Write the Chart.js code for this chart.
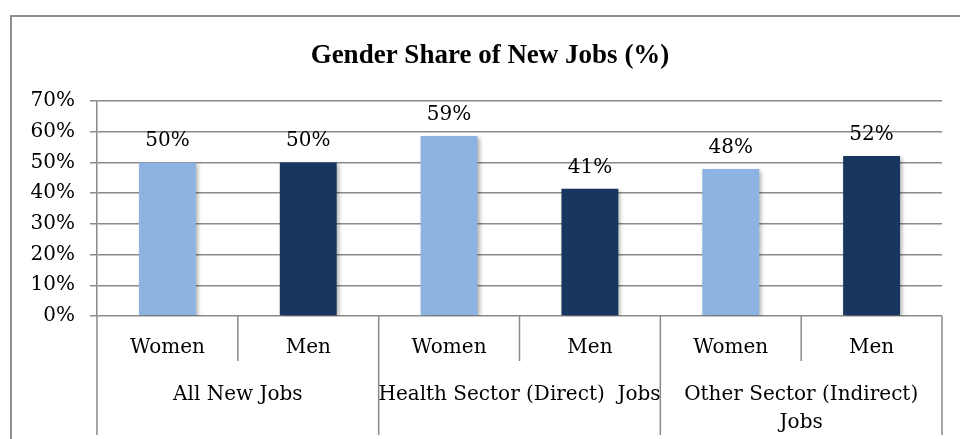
<!DOCTYPE html>
<html>
<head>
<meta charset="utf-8">
<script src="https://cdn.jsdelivr.net/npm/chart.js@4/dist/chart.umd.min.js"></script>
<style>
  html, body { margin: 0; padding: 0; background: #fff; }
  #wrap { position: relative; width: 960px; height: 439px; }
</style>
</head>
<body>
<div id="wrap"><canvas id="chart" width="960" height="439"></canvas></div>
<script>
// データ
var chartTitle = 'Gender Share of New Jobs (%)';
var subLabels = ['Women', 'Men', 'Women', 'Men', 'Women', 'Men'];
var groupLabels = [['All New Jobs'], ['Health Sector (Direct)  Jobs'], ['Other Sector (Indirect)', 'Jobs']];
var shareValues = [50, 50, 58.6, 41.4, 47.9, 52.1];
var barColors = ['#8DB3E2', '#17375E', '#8DB3E2', '#17375E', '#8DB3E2', '#17375E'];
var yTicks = [0, 10, 20, 30, 40, 50, 60, 70];

var gridColor = '#8a8a8a';
var axisFont = 'DejaVu Serif';

// 外枠・タイトル・区切り線・グループラベル
var multiLevelAxis = {
    id: 'multiLevelAxis',
    beforeDraw: function(chart) {
        var c = chart.ctx;
        c.save();
        c.strokeStyle = '#8f8f8f';
        c.lineWidth = 2;
        c.beginPath();
        c.moveTo(11, chart.height + 5);
        c.lineTo(11, 16);
        c.lineTo(chart.width + 5, 16);
        c.stroke();
        // タイトル
        c.fillStyle = '#000';
        c.font = 'bold 27px "Liberation Serif"';
        c.textAlign = 'center';
        c.textBaseline = 'middle';
        c.fillText(chartTitle, 490, 56);
        c.restore();
    },
    afterDraw: function(chart) {
        var c = chart.ctx;
        var x = chart.scales.x;
        var area = chart.chartArea;
        var half = (x.getPixelForValue(1) - x.getPixelForValue(0)) / 2;
        c.save();
        c.strokeStyle = gridColor;
        c.lineWidth = 1.5;
        for (var i = 0; i <= subLabels.length; i++) {
            var px = i < subLabels.length ? x.getPixelForValue(i) - half : x.getPixelForValue(i - 1) + half;
            var bottom = (i % 2 === 0) ? area.bottom + 119 : area.bottom + 45;
            c.beginPath();
            c.moveTo(px, area.bottom);
            c.lineTo(px, bottom);
            c.stroke();
        }
        c.fillStyle = '#000';
        c.font = '20px "' + axisFont + '"';
        c.textAlign = 'center';
        c.textBaseline = 'alphabetic';
        groupLabels.forEach(function(lines, g) {
            var cx = (x.getPixelForValue(g * 2) + x.getPixelForValue(g * 2 + 1)) / 2;
            lines.forEach(function(t, k) {
                c.fillText(t, cx, area.bottom + 84 + k * 28);
            });
        });
        c.restore();
    }
};

// 棒の上の値ラベル
var valueLabels = {
    id: 'valueLabels',
    afterDatasetsDraw: function(chart) {
        var c = chart.ctx;
        var meta = chart.getDatasetMeta(0);
        c.save();
        c.fillStyle = '#000';
        c.font = '20px "' + axisFont + '"';
        c.textAlign = 'center';
        c.textBaseline = 'alphabetic';
        meta.data.forEach(function(bar, i) {
            c.fillText(Math.round(shareValues[i]) + '%', bar.x, bar.y - 16);
        });
        c.restore();
    }
};

// 棒の影
var barShadow = {
    id: 'barShadow',
    beforeDatasetsDraw: function(chart) {
        var c = chart.ctx;
        c.save();
        c.shadowColor = 'rgba(0,0,0,0.3)';
        c.shadowBlur = 4;
        c.shadowOffsetX = 2;
        c.shadowOffsetY = 2;
    },
    afterDatasetsDraw: function(chart) {
        chart.ctx.restore();
    }
};

var chart = new Chart(document.getElementById('chart'), {
    type: 'bar',
    data: {
        labels: subLabels,
        datasets: [{
            data: shareValues,
            backgroundColor: barColors,
            borderWidth: 0,
            categoryPercentage: 1,
            barPercentage: 0.404
        }]
    },
    options: {
        responsive: false,
        animation: false,
        events: [],
        layout: {
            padding: { left: 0, right: 18, top: 101, bottom: 0 }
        },
        plugins: {
            legend: { display: false },
            tooltip: { enabled: false },
            title: { display: false }
        },
        scales: {
            x: {
                offset: true,
                grid: { display: false, drawTicks: false, tickLength: 0 },
                border: { display: false },
                ticks: {
                    color: '#000',
                    font: { family: axisFont, size: 20 },
                    padding: 20,
                    maxRotation: 0,
                    autoSkip: false
                },
                afterFit: function(s) { s.height = 123; }
            },
            y: {
                min: 0,
                max: 70,
                afterBuildTicks: function(s) {
                    s.ticks = yTicks.map(function(v) { return { value: v }; });
                },
                grid: { color: gridColor, lineWidth: 1.5, tickLength: 7 },
                border: { display: true, color: gridColor, width: 1.5 },
                ticks: {
                    color: '#000',
                    font: { family: axisFont, size: 20 },
                    padding: 15,
                    callback: function(v) { return v + '%'; }
                },
                afterFit: function(s) { s.width = 97; }
            }
        }
    },
    plugins: [barShadow, valueLabels, multiLevelAxis]
});
</script>
</body>
</html>
